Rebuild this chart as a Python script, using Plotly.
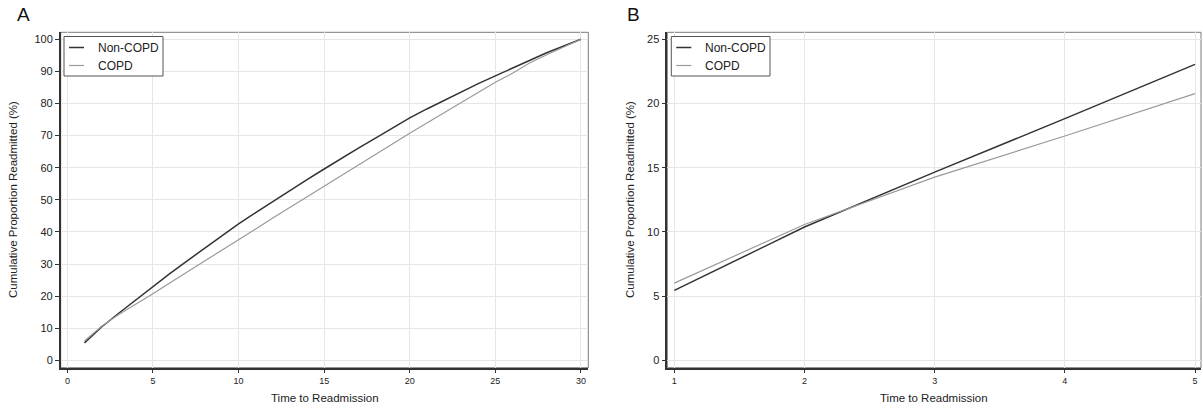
import plotly.graph_objects as go

# Days since discharge and cumulative share readmitted (%)
days = list(range(1, 31))
non_copd = [5.44, 10.38, 14.66, 18.82, 23.05, 27.1, 31.0, 34.8, 38.7, 42.5,
            46.0, 49.5, 52.9, 56.3, 59.6, 62.9, 66.1, 69.2, 72.4, 75.5,
            78.3, 81.0, 83.7, 86.2, 88.6, 91.0, 93.5, 95.8, 97.9, 100.0]
copd = [6.01, 10.58, 14.27, 17.47, 20.77, 24.2, 27.5, 30.9, 34.2, 37.6,
        40.9, 44.3, 47.6, 51.0, 54.4, 57.7, 61.0, 64.2, 67.5, 70.7,
        73.9, 77.1, 80.3, 83.4, 86.6, 89.4, 92.6, 95.2, 97.6, 100.0]

# Panel B zooms into the first five days
zoom_days = 5

xticks_a = [0, 5, 10, 15, 20, 25, 30]
yticks_a = [0, 10, 20, 30, 40, 50, 60, 70, 80, 90, 100]
xticks_b = [1, 2, 3, 4, 5]
yticks_b = [0, 5, 10, 15, 20, 25]

series_names = ["Non-COPD", "COPD"]
series_colors = ["#333333", "#9a9a9a"]
series_widths = [1.5, 1.2]

W, H = 1203, 410
FONT = "Liberation Sans, Arial, sans-serif"
TEXT = "#222222"


def px(x):
    return x / W


def py(y):
    return 1 - y / H


fig = go.Figure()

panels = [
    dict(xa="x", ya="y", xs=days, ys=[non_copd, copd]),
    dict(xa="x2", ya="y2", xs=days[:zoom_days],
         ys=[non_copd[:zoom_days], copd[:zoom_days]]),
]
for p in panels:
    for name, vals, col, w in zip(series_names, p["ys"], series_colors, series_widths):
        fig.add_trace(go.Scatter(
            x=p["xs"], y=vals, mode="lines", name=name,
            line=dict(color=col, width=w), showlegend=False,
            xaxis=p["xa"], yaxis=p["ya"],
        ))

top, bottom = 32.3, 367.7
dom_y = [py(bottom), py(top)]
dom_a = [px(60.7), px(588.3)]
dom_b = [px(667.3), px(1201.0)]

common_axis = dict(
    showline=True, linecolor="#333333", linewidth=1.5,
    ticks="outside", ticklen=4, tickcolor="#333333", tickwidth=1,
    showgrid=True, gridcolor="#e6e6e6", gridwidth=1,
    zeroline=False, fixedrange=True,
)

fig.update_layout(
    width=W, height=H,
    margin=dict(l=0, r=0, t=0, b=0),
    paper_bgcolor="white", plot_bgcolor="white",
    font=dict(family=FONT, color=TEXT),
    showlegend=False,
    xaxis=dict(domain=dom_a, range=[-0.39, 30.43], tickvals=xticks_a,
               tickfont=dict(size=9, color=TEXT), anchor="y", **common_axis),
    yaxis=dict(domain=dom_y, range=[-2.3, 102.18], tickvals=yticks_a,
               tickfont=dict(size=11, color=TEXT), anchor="x", **common_axis),
    xaxis2=dict(domain=dom_b, range=[0.946, 5.046], tickvals=xticks_b,
                tickfont=dict(size=9, color=TEXT), anchor="y2", **common_axis),
    yaxis2=dict(domain=dom_y, range=[-0.576, 25.545], tickvals=yticks_b,
                tickfont=dict(size=11, color=TEXT), anchor="x2", **common_axis),
)

shapes = []
annotations = []

# Plot frames and panel texts
for xa, ya, dom, letter, letter_x, ytitle_x in [
    ("x", "y", dom_a, "A", 15, 13),
    ("x2", "y2", dom_b, "B", 625, 630),
]:
    shapes.append(dict(type="rect", xref=f"{xa} domain", yref=f"{ya} domain",
                       x0=0, x1=1, y0=0, y1=1, layer="below",
                       line=dict(color="#7a7a7a", width=1)))
    annotations.append(dict(text=letter, x=px(letter_x), y=py(27), xref="paper", yref="paper",
                            xanchor="left", yanchor="bottom", showarrow=False,
                            font=dict(size=19, color="#111111", family=FONT)))
    annotations.append(dict(text="Time to Readmission", x=(dom[0] + dom[1]) / 2, y=py(398),
                            xref="paper", yref="paper", xanchor="center", yanchor="middle",
                            showarrow=False, font=dict(size=11.5, color=TEXT, family=FONT)))
    annotations.append(dict(text="Cumulative Proportion Readmitted (%)", x=px(ytitle_x),
                            y=(dom_y[0] + dom_y[1]) / 2, xref="paper", yref="paper",
                            xanchor="center", yanchor="middle", textangle=-90,
                            showarrow=False, font=dict(size=11.5, color=TEXT, family=FONT)))

# Legends drawn as boxed keys in the upper-left corner of each panel
for box_x0, box_x1 in [(64.0, 163.0), (671.3, 770.0)]:
    shapes.append(dict(type="rect", xref="paper", yref="paper",
                       x0=px(box_x0), x1=px(box_x1), y0=py(76.0), y1=py(36.5),
                       fillcolor="white", layer="above",
                       line=dict(color="#555555", width=1)))
    for name, col, w, ly in zip(series_names, series_colors, series_widths, [47.5, 65.5]):
        shapes.append(dict(type="line", xref="paper", yref="paper",
                           x0=px(box_x0 + 5), x1=px(box_x0 + 20), y0=py(ly), y1=py(ly),
                           layer="above", line=dict(color=col, width=w)))
        annotations.append(dict(text=name, x=px(box_x0 + 32), y=py(ly), xref="paper",
                                yref="paper", xanchor="left", yanchor="middle",
                                showarrow=False, font=dict(size=12, color=TEXT, family=FONT)))

fig.update_layout(shapes=shapes, annotations=annotations)

fig.write_html("out.html", config=dict(displayModeBar=False))
